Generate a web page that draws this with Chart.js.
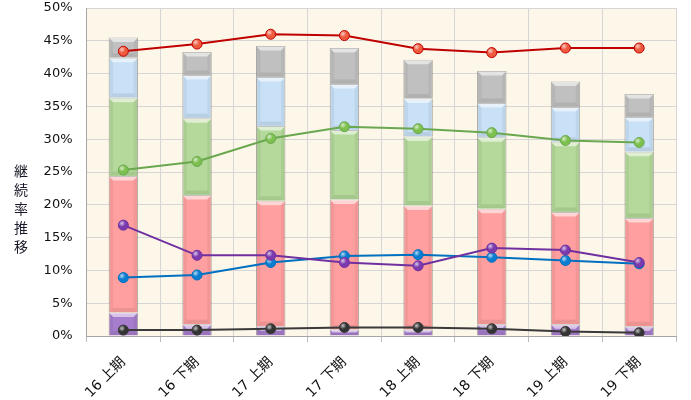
<!DOCTYPE html>
<html><head><meta charset="utf-8">
<script src="https://cdn.jsdelivr.net/npm/chart.js@4"></script>
<style>html,body{margin:0;padding:0;background:#fff}#wrap{width:691px;height:400px}</style>
</head><body><div id="wrap"><canvas id="c" width="691" height="400"></canvas></div>
<script>
const categories = ['16 上期','16 下期','17 上期','17 下期','18 上期','18 下期','19 上期','19 下期'];
const yTicks = [0,5,10,15,20,25,30,35,40,45,50];
const yTitle = '継続率推移';
// stacked bar segments (%)
const barPurple = [3.6,1.8,1.5,1.0,1.0,1.8,1.8,1.5];
const barPink   = [20.8,19.7,19.1,19.8,18.9,17.6,17.1,16.5];
const barGreen  = [11.9,11.7,11.4,10.6,10.5,10.9,10.7,10.1];
const barBlue   = [6.1,6.6,7.5,7.0,5.8,5.2,5.3,5.3];
const barGray   = [3.1,3.5,4.7,5.5,5.9,4.9,3.9,3.5];
// line series (%)
const lineRed    = [43.4,44.5,46.0,45.8,43.8,43.2,43.9,43.9];
const lineGreen  = [25.3,26.6,30.1,31.9,31.6,31.0,29.8,29.5];
const linePurple = [16.9,12.3,12.3,11.2,10.7,13.4,13.1,11.2];
const lineBlue   = [8.9,9.3,11.2,12.2,12.4,12.0,11.5,11.0];
const lineDark   = [0.9,0.9,1.1,1.3,1.3,1.1,0.7,0.5];

const FONT = "'DejaVu Sans','Noto Sans CJK JP',sans-serif";

function bar(data, color){
  return {type:'bar', data, backgroundColor:color, borderColor:'rgba(100,100,100,0.5)', borderWidth:1,
    stack:'bars', order:2, barPercentage:0.4, categoryPercentage:1};
}
function line(data, color, pt, key){
  return {type:'line', data, borderColor:color, borderWidth:2, pointRadius:5, pointBorderWidth:1,
    pointBackgroundColor:pt, pointBorderColor:color, stack:key, order:1, tension:0};
}

const bgPlugin = {
  id:'bg',
  beforeDraw(chart){
    const {ctx, chartArea:a} = chart;
    ctx.save(); ctx.fillStyle='#fdf7ea'; ctx.fillRect(a.left,a.top,a.right-a.left,a.bottom-a.top); ctx.restore();
  },
  afterDatasetDraw(chart, args){
    const meta = args.meta, ctx = chart.ctx;
    ctx.save();
    if (meta.type === 'bar'){
      meta.data.forEach(el => {
        const p = el.getProps(['x','y','base','width'], true);
        const l = p.x - p.width/2 + 0.5, r = p.x + p.width/2 - 0.5;
        const t = Math.min(p.y,p.base) + 0.5, b = Math.max(p.y,p.base) - 0.5;
        const h = b - t; const d = Math.min(4, h/2);
        if (h <= 0) return;
        ctx.fillStyle='rgba(255,255,255,0.55)';
        ctx.beginPath(); ctx.moveTo(l,t); ctx.lineTo(r,t); ctx.lineTo(r-d,t+d); ctx.lineTo(l+d,t+d); ctx.closePath(); ctx.fill();
        ctx.fillStyle='rgba(0,0,0,0.08)';
        ctx.beginPath(); ctx.moveTo(l,b); ctx.lineTo(r,b); ctx.lineTo(r-d,b-d); ctx.lineTo(l+d,b-d); ctx.closePath(); ctx.fill();
        ctx.fillStyle='rgba(0,0,0,0.05)';
        ctx.beginPath(); ctx.moveTo(l,t); ctx.lineTo(l+d,t+d); ctx.lineTo(l+d,b-d); ctx.lineTo(l,b); ctx.closePath(); ctx.fill();
        ctx.beginPath(); ctx.moveTo(r,t); ctx.lineTo(r-d,t+d); ctx.lineTo(r-d,b-d); ctx.lineTo(r,b); ctx.closePath(); ctx.fill();
      });
    } else if (meta.type === 'line'){
      meta.data.forEach(el => {
        const g = ctx.createRadialGradient(el.x-1.5, el.y-1.8, 0, el.x-1.5, el.y-1.8, 3.5);
        g.addColorStop(0,'rgba(255,255,255,0.7)'); g.addColorStop(1,'rgba(255,255,255,0)');
        ctx.fillStyle=g; ctx.beginPath(); ctx.arc(el.x, el.y, 4.5, 0, Math.PI*2); ctx.fill();
      });
    }
    ctx.restore();
  },
  afterDraw(chart){
    const ctx = chart.ctx;
    ctx.save(); ctx.fillStyle='#1a1a2a'; ctx.font = "14px " + FONT; ctx.textAlign='center'; ctx.textBaseline='middle';
    [...yTitle].forEach((ch,i) => ctx.fillText(ch, 21, 172 + i*19.2));
    ctx.restore();
  }
};

new Chart(document.getElementById('c'), {
  data:{
    labels:categories,
    datasets:[
      bar(barPurple,'#a77dcd'),
      bar(barPink,'#ff9f9f'),
      bar(barGreen,'#b4d99a'),
      bar(barBlue,'#c8e1f7'),
      bar(barGray,'#c0c0c0'),
      line(lineRed,'#c00000','#ee5a3e','l1'),
      line(lineGreen,'#6aa84f','#7cc04e','l2'),
      line(linePurple,'#7030a0','#7b3aad','l3'),
      line(lineBlue,'#0070c0','#0a7dd0','l4'),
      line(lineDark,'#3a3a3a','#333333','l5')
    ]
  },
  options:{
    responsive:false, animation:false,
    layout:{padding:{left:0,right:15,top:8,bottom:0}},
    plugins:{legend:{display:false}, tooltip:{enabled:false}},
    scales:{
      x:{stacked:true, offset:true,
        grid:{offset:true, color:'#d6d6d6', tickLength:6, tickColor:'#bbbbbb'},
        border:{color:'#a6a6a6'},
        ticks:{minRotation:45, maxRotation:45, color:'#111', font:{family:FONT,size:14}, padding:12, labelOffset:0},
        afterFit(s){ s.height = 64; s.paddingTop = 0; }
      },
      y:{stacked:true, min:0, max:50,
        afterBuildTicks(s){ s.ticks = yTicks.map(v=>({value:v})); },
        grid:{color:'#d6d6d6', drawTicks:false},
        border:{color:'#a6a6a6'},
        ticks:{color:'#111', font:{family:FONT,size:13}, padding:14, callback:v=>v+'%'},
        afterFit(s){ s.width = 86.5; s.paddingTop = 0; s.paddingBottom = 0; }
      }
    }
  },
  plugins:[bgPlugin]
});
</script></body></html>
